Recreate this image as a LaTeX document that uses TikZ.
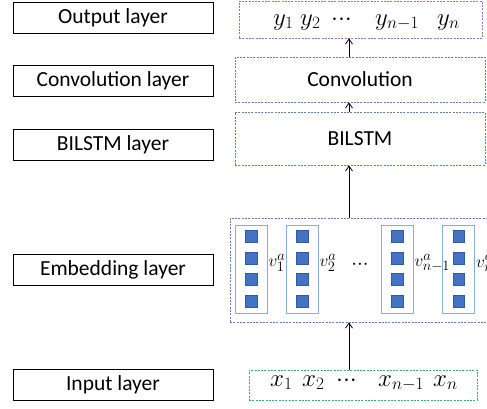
\documentclass[tikz,border=0pt]{standalone}
\usepackage{fontspec}
\setmainfont{Carlito}
\usetikzlibrary{arrows.meta}
\definecolor{purpdash}{HTML}{9B6FBF}
\definecolor{bluedash}{HTML}{5F7FB5}
\definecolor{greendash}{HTML}{3FA877}
\definecolor{cellblue}{HTML}{4472C4}
\definecolor{colline}{HTML}{8EA9DB}
\newcommand{\seqdots}{{\cdot}{\cdot}{\cdot}}

\begin{document}
\begin{tikzpicture}[x=1pt, y=-1pt,
    every node/.style={font=\fontsize{21.5}{25}\selectfont},
    layer/.style={draw, line width=0.8pt, minimum width=200pt, minimum height=31pt, inner sep=0pt},
    block/.style={draw=bluedash, line width=0.8pt, dash pattern=on 2pt off 1.3pt, inner sep=0pt},
    seq/.style={anchor=base west, inner sep=0pt, font=\fontsize{24}{28}\selectfont},
    column/.style={draw=colline, line width=0.9pt, minimum width=32pt, minimum height=88pt, inner sep=0pt},
    cell/.style={fill=cellblue, draw=cellblue!80!black, line width=0.3pt, minimum size=11.5pt, inner sep=0pt},
    vlab/.style={anchor=west, inner sep=1pt, font=\fontsize{19}{21}\selectfont},
    arr/.style={-{Straight Barb[length=5pt,width=7pt]}, line width=0.8pt}]

    \useasboundingbox (0,0) rectangle (487,408);
    \clip (0,0) rectangle (487,408);

    % left column: layer names
    \node[layer] (outl) at (113,18) {Output layer};
    \node[layer] (convl) at (113,81) {Convolution layer};
    \node[layer] (bill) at (113,145) {BILSTM layer};
    \node[layer] (embl) at (113,270) {Embedding layer};
    \node[layer] (inl) at (113,385) {Input layer};

    % right column: the network
    \node[block, draw=purpdash, minimum width=243pt, minimum height=37pt] (out) at (360.5,19.5) {};
    \foreach \t/\px [count=\i] in {y_1/273, y_2/300, \seqdots/331, {y_{n-1}}/375, y_n/437}
        \node[seq] (y\i) at (\px,25) {$\t$};
    \node[block, minimum width=250pt, minimum height=45pt] (conv) at (360,79.5) {Convolution};
    \node[block, minimum width=250pt, minimum height=53pt] (bilstm) at (360,138.5) {BILSTM};
    \node[block, minimum width=270pt, minimum height=104pt] (emb) at (365,270) {};
    \node[block, draw=greendash, minimum width=228pt, minimum height=30pt] (in) at (363,385) {};
    \foreach \t/\px [count=\i] in {x_1/270, x_2/302, \seqdots/336, {x_{n-1}}/378, x_n/433}
        \node[seq] (x\i) at (\px,386) {$\t$};

    % embedding vectors
    \foreach \cx/\n in {251/1, 302/2, 397/3, 458.5/4} {
        \node[column] (col\n) at (\cx,269) {};
        \foreach \sy [count=\k] in {236,258,279,301}
            \node[cell] (cell\n\k) at (\cx,\sy) {};
    }
    \node[vlab] (v1) at ([yshift=6pt]col1.east) {$v_1^a$};
    \node[vlab] (v2) at ([yshift=6pt]col2.east) {$v_2^a$};
    \node[vlab] (v3) at ([yshift=6pt]col3.east) {$v_{n-1}^a$};
    \node[vlab] (v4) at ([yshift=6pt]col4.east) {$v_n^a$};
    \node (dots) at (360,265) {$\mathbf{\seqdots}$};

    % arrows
    \coordinate (ax) at (349,0);
    \draw[arr] (in.north -| ax) -- (emb.south -| ax);
    \draw[arr] (emb.north -| ax) -- (bilstm.south -| ax);
    \draw[arr] (bilstm.north -| ax) -- (conv.south -| ax);
    \draw[arr] (conv.north -| ax) -- (out.south -| ax);
\end{tikzpicture}
\end{document}
